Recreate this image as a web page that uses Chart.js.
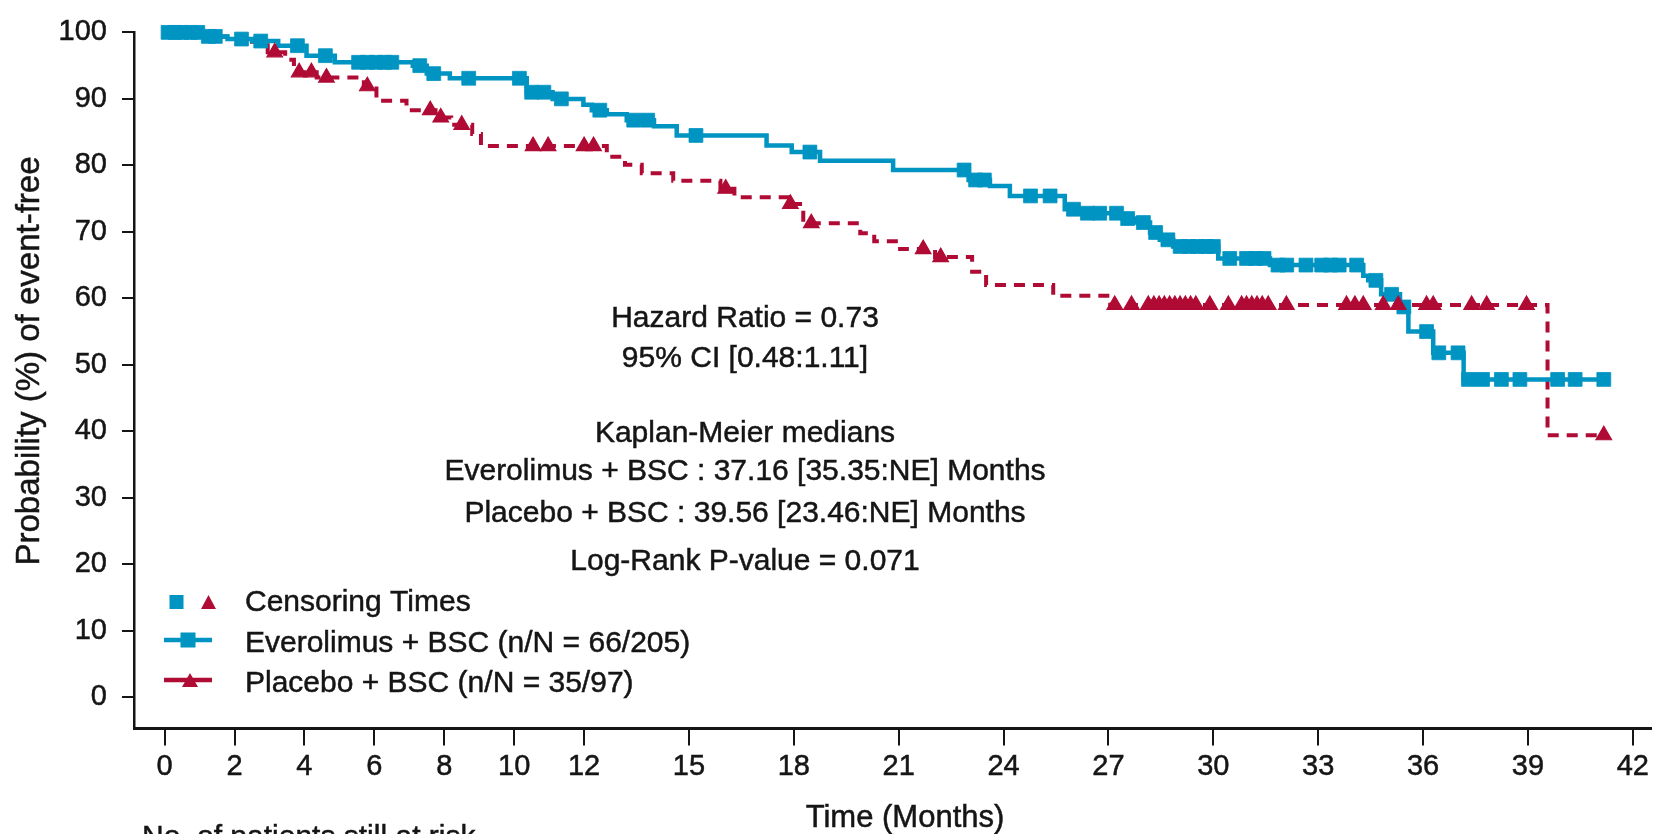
<!DOCTYPE html>
<html><head><meta charset="utf-8">
<script src="https://cdn.jsdelivr.net/npm/chart.js@4.4.1/dist/chart.umd.min.js"></script>
<style>html,body{margin:0;padding:0;background:#fff;}canvas{display:block;}</style>
</head><body>
<canvas id="c" width="1665" height="834"></canvas>
<script>
// ---- Data ----
const xTickValues = [0, 2, 4, 6, 8, 10, 12, 15, 18, 21, 24, 27, 30, 33, 36, 39, 42];
const yTickValues = [0, 10, 20, 30, 40, 50, 60, 70, 80, 90, 100];

// Everolimus + BSC : event times (months) and KM survival (%) after each event
const everoEventTimes  = [1.1, 1.8, 2.5, 3.25, 4.06, 4.87, 7.1, 7.5, 8.16, 10.36, 11.1, 11.98, 12.22, 12.65, 13.22, 14.0, 14.65, 17.22, 17.94, 18.75, 20.84, 23.0, 23.61, 24.18, 25.75, 26.2, 27.4, 27.8, 28.19, 28.47, 28.85, 30.14, 31.62, 34.29, 34.43, 34.8, 35.34, 35.58, 36.29, 37.16];
const everoEventValues = [99.4, 99.0, 98.7, 98.0, 96.5, 95.5, 95.0, 93.8, 93.1, 91.0, 90.0, 89.1, 88.3, 87.7, 86.8, 85.9, 84.5, 83.0, 82.0, 80.7, 79.3, 77.8, 76.9, 75.4, 73.4, 72.8, 72.0, 71.4, 69.9, 68.8, 67.8, 66.0, 65.0, 63.4, 62.7, 60.6, 58.7, 55.0, 51.8, 47.8];
const everoCensorTimes = [0.1, 0.3, 0.5, 0.75, 0.95, 1.25, 1.45, 2.2, 2.75, 3.8, 4.6, 5.55, 5.8, 6.05, 6.3, 6.5, 7.3, 7.7, 8.7, 10.15, 10.5, 10.85, 11.35, 12.45, 13.42, 13.82, 15.2, 18.46, 22.87, 23.2, 23.45, 24.77, 25.33, 26.0, 26.4, 26.75, 27.23, 27.55, 28.0, 28.35, 28.7, 29.05, 29.3, 29.55, 29.8, 30.0, 30.47, 30.95, 31.2, 31.45, 31.85, 32.1, 32.65, 33.1, 33.35, 33.6, 34.1, 34.65, 35.1, 35.45, 36.1, 36.45, 37.0, 37.3, 37.7, 38.24, 38.77, 39.85, 40.35, 41.17];
const everoEndTime = 41.17;

// Placebo + BSC
const placeboEventTimes  = [1.15, 1.85, 2.5, 2.95, 3.45, 3.7, 4.35, 5.7, 6.06, 6.92, 7.75, 8.2, 8.8, 9.05, 12.65, 13.17, 13.65, 14.55, 15.9, 16.3, 17.85, 18.27, 19.9, 20.3, 21.04, 22.04, 23.1, 23.5, 25.42, 27.05, 39.56];
const placeboEventValues = [99.4, 99.0, 98.6, 97.0, 95.9, 94.0, 93.2, 91.9, 89.7, 88.3, 87.2, 86.1, 84.7, 82.9, 81.3, 80.1, 78.8, 77.7, 76.5, 75.2, 74.2, 71.3, 69.8, 68.6, 67.4, 66.2, 64.0, 62.0, 60.4, 59.0, 39.4];
const placeboCensorTimes = [3.15, 3.85, 4.2, 4.63, 5.8, 7.6, 7.9, 8.5, 10.54, 10.97, 12.0, 12.27, 16.05, 17.9, 18.5, 21.7, 22.2, 27.18, 27.66, 28.14, 28.3, 28.45, 28.6, 28.75, 28.9, 29.05, 29.2, 29.35, 29.5, 29.9, 30.43, 30.81, 30.95, 31.1, 31.25, 31.4, 31.57, 32.09, 33.81, 34.05, 34.29, 34.86, 35.29, 36.1, 36.29, 37.39, 37.82, 38.96, 41.17];
const placeboEndTime = 41.17;

const seriesLabels = ['Everolimus + BSC (n/N = 66/205)', 'Placebo + BSC (n/N = 35/97)'];
const statLines = ['Hazard Ratio = 0.73', '95% CI [0.48:1.11]', 'Kaplan-Meier medians',
  'Everolimus + BSC : 37.16 [35.35:NE] Months', 'Placebo + BSC : 39.56 [23.46:NE] Months',
  'Log-Rank P-value = 0.071'];

// ---- Helpers ----
function stepValue(times, values, t) {
  let v = 100;
  for (let i = 0; i < times.length; i++) { if (times[i] <= t) v = values[i]; else break; }
  return v;
}
function kmCurve(times, values, end) {
  const pts = [{x: 0, y: 100}];
  times.forEach((t, i) => pts.push({x: t, y: values[i]}));
  pts.push({x: end, y: values[values.length - 1]});
  return pts;
}
function censorPts(cTimes, times, values) {
  return cTimes.map(t => ({x: t, y: stepValue(times, values, t)}));
}

const BLUE = '#0094C2';
const RED = '#B00B35';
const INK = '#151515';
const FONT = '"Liberation Sans", Arial, Helvetica, sans-serif';

const overlay = {
  id: 'overlay',
  afterDraw(chart) {
    const c = chart.ctx;
    c.save();
    c.fillStyle = INK;
    c.strokeStyle = INK;
    c.lineWidth = 0.5;
    const txt = (s, x, y) => { c.fillText(s, x, y); c.strokeText(s, x, y); };
    // statistics block
    c.font = '30px ' + FONT;
    c.textAlign = 'center';
    c.textBaseline = 'alphabetic';
    const ys = [327, 367, 442, 480, 522, 570];
    statLines.forEach((s, i) => txt(s, 745, ys[i]));

    // y title
    c.save();
    c.translate(29.5, 361);
    c.rotate(-Math.PI / 2);
    c.font = '33px ' + FONT;
    c.textBaseline = 'middle';
    txt('Probability (%) of event-free', 0, 0);
    c.restore();

    // x title
    c.font = '31px ' + FONT;
    txt('Time (Months)', 905, 827);

    // at-risk header (cut by bottom edge)
    c.textAlign = 'left';
    c.font = '30px ' + FONT;
    txt('No. of patients still at risk', 142, 846);

    // legend
    c.font = '30px ' + FONT;
    txt('Censoring Times', 245, 611);
    txt(seriesLabels[0], 245, 652);
    txt(seriesLabels[1], 245, 692);

    function sq(x, y, s, col) { c.fillStyle = col; c.fillRect(x - s / 2, y - s / 2, s, s); }
    function tri(x, y, w, h, col) {
      c.fillStyle = col; c.beginPath();
      c.moveTo(x, y - h / 2); c.lineTo(x + w / 2, y + h / 2); c.lineTo(x - w / 2, y + h / 2);
      c.closePath(); c.fill();
    }
    sq(176.5, 602, 14, BLUE);
    tri(208.5, 602, 15, 14, RED);
    c.lineWidth = 4.5;
    c.strokeStyle = BLUE;
    c.beginPath(); c.moveTo(164, 640); c.lineTo(212, 640); c.stroke();
    sq(188, 640, 15, BLUE);
    c.strokeStyle = RED;
    c.beginPath(); c.moveTo(164, 680); c.lineTo(212, 680); c.stroke();
    tri(190, 680, 16, 14, RED);
    c.restore();
  }
};

new Chart(document.getElementById('c'), {
  type: 'line',
  data: {
    datasets: [
      { label: 'Placebo censor', data: censorPts(placeboCensorTimes, placeboEventTimes, placeboEventValues),
        showLine: false, pointStyle: 'triangle', pointRadius: 9, pointBackgroundColor: RED,
        pointBorderColor: RED, pointBorderWidth: 1.2, order: 0, clip: false },
      { label: 'Everolimus censor', data: censorPts(everoCensorTimes, everoEventTimes, everoEventValues),
        showLine: false, pointStyle: 'rect', pointRadius: 9.8, pointBackgroundColor: BLUE,
        pointBorderColor: BLUE, pointBorderWidth: 0.8, order: 1, clip: false },
      { label: seriesLabels[0], data: kmCurve(everoEventTimes, everoEventValues, everoEndTime),
        borderColor: BLUE, borderWidth: 4.5, stepped: true, pointRadius: 0, fill: false, order: 2, clip: false },
      { label: seriesLabels[1], data: kmCurve(placeboEventTimes, placeboEventValues, placeboEndTime),
        borderColor: RED, borderWidth: 4, borderDash: [11, 8], stepped: true, pointRadius: 0, fill: false, order: 3, clip: false }
    ]
  },
  options: {
    responsive: false,
    animation: false,
    layout: { padding: { left: 0, right: 14, top: 28.5, bottom: 0 } },
    plugins: { legend: { display: false }, tooltip: { enabled: false }, title: { display: false } },
    scales: {
      x: {
        type: 'linear', min: -0.875, max: 42.52,
        afterBuildTicks: s => { s.ticks = xTickValues.map(v => ({value: v})); },
        afterFit: s => { s.height = 105.5; },
        grid: { display: true, drawOnChartArea: false, drawTicks: true, tickLength: 17, color: INK, lineWidth: 2 },
        border: { display: true, color: INK, width: 3 },
        ticks: { color: INK, font: { family: FONT, size: 29 }, padding: 4, maxRotation: 0, autoSkip: false,
                 textStrokeColor: INK, textStrokeWidth: 0.5 }
      },
      y: {
        type: 'linear', min: -4.71, max: 100,
        afterBuildTicks: s => { s.ticks = yTickValues.map(v => ({value: v})); },
        afterFit: s => { s.width = 134; },
        grid: { display: true, drawOnChartArea: false, drawTicks: true, tickLength: 12, color: INK, lineWidth: 2 },
        border: { display: true, color: INK, width: 2.5 },
        ticks: { color: INK, font: { family: FONT, size: 29 }, padding: 15, autoSkip: false,
                 textStrokeColor: INK, textStrokeWidth: 0.5 }
      }
    }
  },
  plugins: [overlay]
});
</script>
</body></html>
